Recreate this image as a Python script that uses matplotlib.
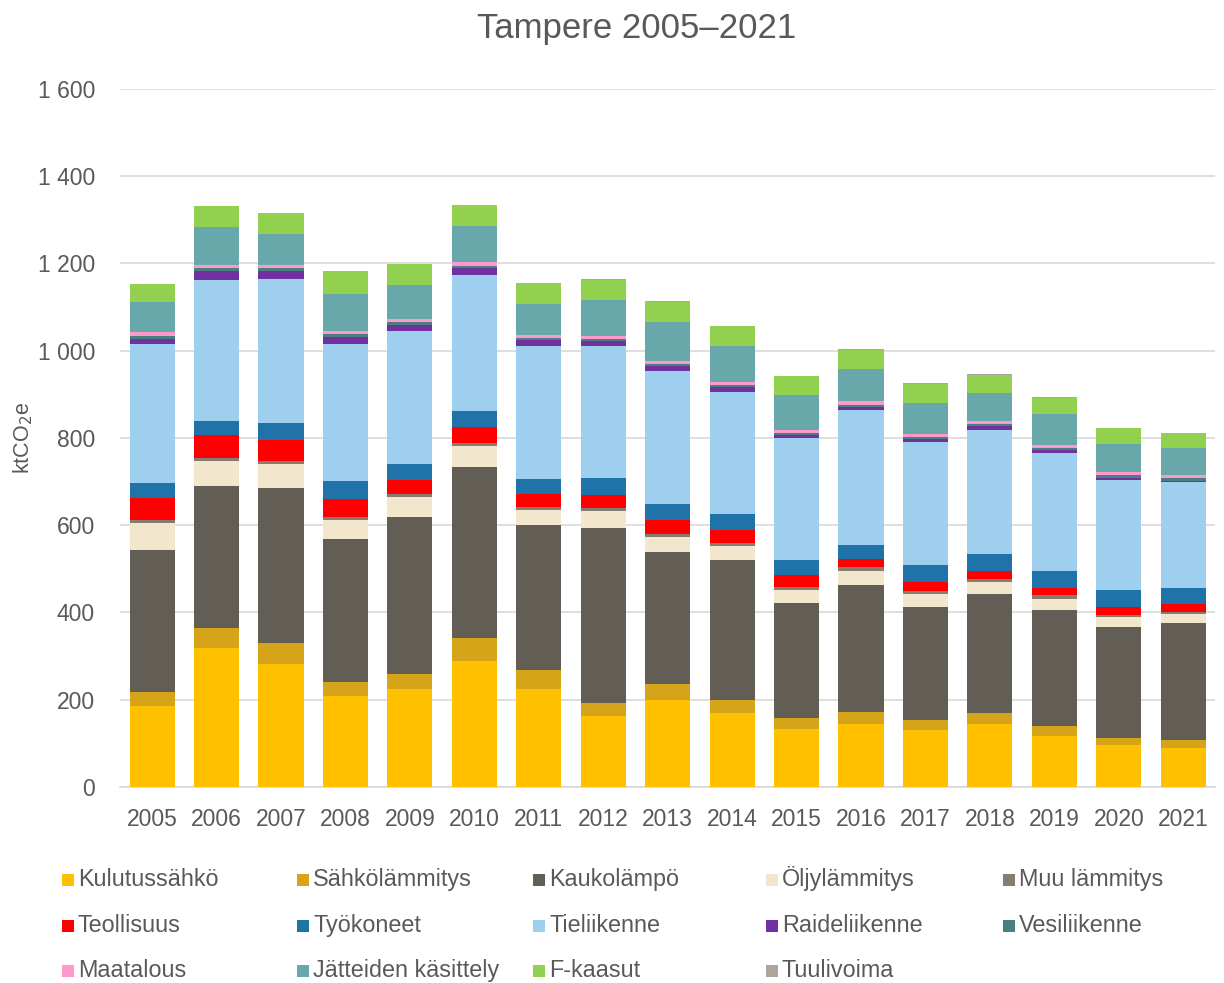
import numpy as np
import matplotlib
matplotlib.use("Agg")
import matplotlib.pyplot as plt
from matplotlib.patches import Rectangle
from matplotlib.ticker import FuncFormatter

plt.rcParams['font.family'] = ['Liberation Sans', 'DejaVu Sans']

years = [str(y) for y in range(2005, 2022)]

# ktCO2e per sector
kulutussahko = [185, 318, 282, 208, 225, 289, 225, 162, 199, 170, 134, 145, 131, 144, 118, 96, 89]
sahkolammitys = [32, 47, 48, 33, 34, 53, 44, 31, 37, 29, 23, 28, 23, 26, 21, 16, 19]
kaukolampo = [327, 324, 355, 328, 361, 392, 331, 400, 303, 321, 265, 291, 259, 272, 267, 255, 269]
oljylammitys = [62, 58, 56, 43, 45, 48, 36, 39, 35, 33, 30, 30, 29, 27, 25, 23, 19]
muu_lammitys = [6, 8, 6, 7, 6, 7, 6, 8, 7, 7, 7, 10, 8, 8, 8, 4, 5]
teollisuus = [50, 51, 49, 41, 33, 36, 30, 29, 32, 30, 26, 18, 21, 19, 17, 19, 19]
tyokoneet = [34, 34, 38, 41, 36, 36, 34, 39, 36, 36, 35, 33, 38, 37, 40, 39, 37]
tieliikenne = [319, 323, 330, 315, 306, 313, 305, 302, 304, 280, 280, 309, 282, 285, 270, 252, 241]
raideliikenne = [13, 20, 19, 15, 13, 16, 14, 12, 12, 10, 7, 8, 7, 9, 6, 5, 3]
vesiliikenne = [6, 6, 6, 7, 7, 5, 5, 6, 4, 5, 4, 4, 5, 4, 6, 6, 7]
maatalous = [8, 7, 7, 7, 7, 8, 7, 6, 8, 7, 7, 8, 6, 7, 7, 7, 8]
jatteet = [70, 88, 72, 86, 77, 84, 71, 83, 89, 83, 81, 73, 72, 66, 71, 64, 62]
f_kaasut = [40, 47, 47, 51, 49, 47, 47, 46, 46, 45, 42, 45, 43, 41, 36, 37, 33]
tuulivoima = [0, 0, 0, 0, 0, 0, 0, 1, 1, 1, 1, 1, 1, 1, 1, 1, 1]

labels = ['Kulutussähkö', 'Sähkölämmitys', 'Kaukolämpö', 'Öljylämmitys', 'Muu lämmitys',
          'Teollisuus', 'Työkoneet', 'Tieliikenne', 'Raideliikenne', 'Vesiliikenne',
          'Maatalous', 'Jätteiden käsittely', 'F-kaasut', 'Tuulivoima']
colors = ['#FFC000', '#D5A419', '#625D55', '#F2E6CC', '#857C72',
          '#FF0000', '#1F73A8', '#9FCFEE', '#7030A0', '#4A7F7F',
          '#FF99CC', '#68A8AA', '#92D050', '#ADA59A']
series = [kulutussahko, sahkolammitys, kaukolampo, oljylammitys, muu_lammitys,
          teollisuus, tyokoneet, tieliikenne, raideliikenne, vesiliikenne,
          maatalous, jatteet, f_kaasut, tuulivoima]

txt = '#595959'

fig = plt.figure(figsize=(12.24, 9.83), dpi=100)
ax = fig.add_axes([0.098, 0.1994, 0.895, 0.7101])

x = np.arange(len(years))
bottom = np.zeros(len(years))
for vals, col in zip(series, colors):
    vals = np.array(vals, dtype=float)
    ax.bar(x, vals, 0.7, bottom=bottom, color=col, zorder=3)
    bottom += vals

ax.set_xlim(-0.5, len(years) - 0.5)
ax.set_ylim(0, 1600)
ax.set_yticks(range(0, 1601, 200))
ax.yaxis.set_major_formatter(FuncFormatter(lambda v, p: f'{int(v):,}'.replace(',', ' ')))
ax.set_xticks(x)
ax.set_xticklabels(years)
ax.grid(axis='y', color='#D9D9D9', linewidth=1.2, zorder=0)
for s in ['top', 'right', 'left']:
    ax.spines[s].set_visible(False)
ax.spines['bottom'].set_color('#D9D9D9')
ax.spines['bottom'].set_linewidth(1.2)
ax.tick_params(axis='both', length=0, labelsize=16.5, colors=txt)
ax.tick_params(axis='x', pad=15)
ax.tick_params(axis='y', pad=18)
ax.set_ylabel('ktCO$_2$e', fontsize=15.5, color=txt, labelpad=2)

fig.text(0.52, 0.971, 'Tampere 2005–2021', ha='center', va='center', fontsize=25, color=txt)

# legend laid out in rows of five like the original
col_x = [62, 297, 533, 766, 1003]
row_y = [880, 926, 971]
W, H = 1224, 983
for i, (lab, col) in enumerate(zip(labels, colors)):
    r, c = divmod(i, 5)
    px, py = col_x[c], row_y[r]
    fig.patches.append(Rectangle((px / W, (H - py - 6) / H), 12 / W, 12 / H,
                                 transform=fig.transFigure, facecolor=col, edgecolor='none'))
    fig.text((px + 16) / W, (H - py - 6) / H, lab, ha='left', va='baseline',
             fontsize=16.8, color=txt)

fig.savefig('out.png', dpi=100)
